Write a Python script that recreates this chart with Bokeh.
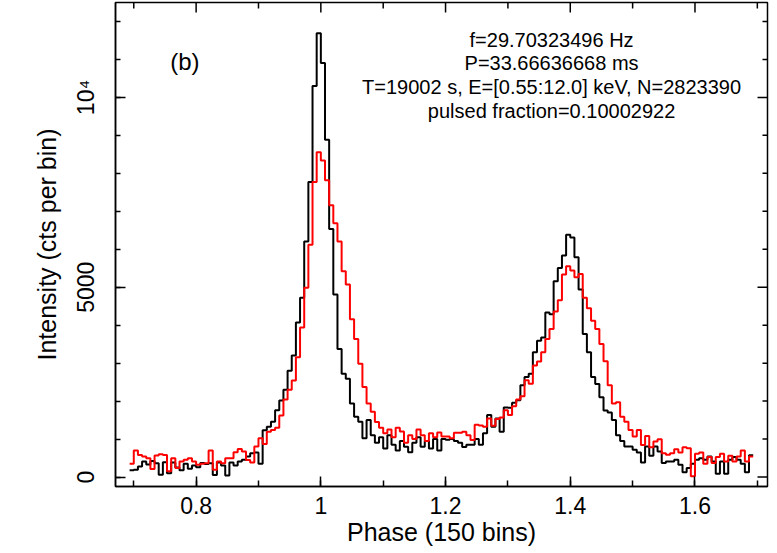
import numpy as np
from bokeh.plotting import figure
from bokeh.models import Range1d, FixedTicker, Label
from bokeh.embed import file_html
from bokeh.resources import INLINE

# ---------------- data ----------------
n_bins = 150
phase_first_edge = 104 / 150          # left edge of first bin
bin_width = 1 / 150

counts_black = [
    175, 190, 280, 410, 330, 420, 360, 60, 390, 100,
    380, 250, 180, 350, 220, 300, 260, 370, 340, 360,
    50, 380, 300, 40, 380, 300, 409, 452, 540, 626,
    644, 348, 1230, 1322, 1453, 1757, 2018, 2300, 2800, 3200,
    4069, 4723, 6204, 7772, 10299, 11693, 10908, 8887, 6535, 4810,
    3373, 2719, 2589, 1935, 1587, 1456, 1021, 1500, 1100, 900,
    1050, 750, 1100, 850, 700, 950, 800, 650, 900, 1050,
    800, 950, 750, 1000, 700, 1000, 980, 1000, 950, 900,
    790, 850, 850, 1000, 850, 1152, 1631, 1326, 1543, 1195,
    1831, 1822, 1953, 2023, 2415, 2633, 2720, 3286, 3591, 3678,
    4331, 4288, 5159, 5508, 5838, 6379, 6309, 5786, 4941, 3765,
    3286, 2633, 2450, 2100, 1750, 1700, 1500, 1100, 950, 802,
    802, 715, 646, 384, 802, 558, 802, 672, 367, 410,
    410, 454, 320, 123, 235, 349, 454, 497, 454, 541,
    410, 88, 410, 88, 454, 524, 454, 349, 123, 576,
]

counts_red = [
    348, 696, 583, 539, 496, 209, 566, 600, 583, 150,
    496, 235, 409, 452, 496, 409, 322, 348, 365, 696,
    191, 409, 365, 496, 496, 650, 740, 670, 450, 380,
    803, 1021, 870, 1195, 1239, 1300, 1620, 2040, 2300, 2545,
    3155, 3940, 4984, 6117, 7772, 8556, 8338, 7816, 7162, 6683,
    6204, 5420, 5071, 4156, 3634, 2981, 2371, 1935, 1717, 1450,
    1300, 1150, 1250, 1050, 1300, 1200, 900, 1100, 1000, 1250,
    1100, 950, 1150, 1050, 1170, 1064, 1064, 1021, 1169, 1169,
    1195, 1100, 977, 1378, 1360, 1326, 1543, 1350, 1526, 1570,
    1761, 1631, 1866, 2040, 2127, 2546, 2458, 2937, 3042, 3286,
    3634, 3896, 4358, 4654, 5333, 5551, 5438, 5263, 5351, 4723,
    4445, 4114, 3896, 3504, 3051, 2414, 1935, 1970, 1587, 1456,
    1238, 1064, 1240, 846, 1081, 785, 933, 994, 628, 585,
    628, 733, 646, 785, 760, 20, 611, 646, 349, 524,
    367, 524, 611, 410, 558, 410, 541, 698, 410, 541,
]

x_ticks = [0.8, 1.0, 1.2, 1.4, 1.6]
x_tick_labels = ["0.8", "1", "1.2", "1.4", "1.6"]
x_minor_ticks = [0.7, 0.8, 0.9, 1.0, 1.1, 1.2, 1.3, 1.4, 1.5, 1.6, 1.7]
y_ticks = [0, 5000, 10000]
y_tick_labels = ["0", "5000", "10\u2074"]
y_minor_ticks = [0, 1000, 2000, 3000, 4000, 5000, 6000, 7000, 8000, 9000,
                 10000, 11000, 12000]

info_lines = [
    "f=29.70323496 Hz",
    "P=33.66636668 ms",
    "T=19002 s, E=[0.55:12.0] keV, N=2823390",
    "pulsed fraction=0.10002922",
]
panel_label = "(b)"

# ---------------- figure ----------------
edges = phase_first_edge + np.arange(n_bins + 1) * bin_width
FONT = "Liberation Sans"

X0, X1 = 0.6707, 1.7163
Y0, Y1 = -250, 12500
FW, FH = 652, 484

p = figure(frame_width=FW, frame_height=FH,
           x_range=Range1d(X0, X1), y_range=Range1d(Y0, Y1),
           output_backend="svg", toolbar_location=None,
           min_border_left=115, min_border_right=2,
           min_border_top=2, min_border_bottom=59)
p.xgrid.visible = False
p.ygrid.visible = False
p.outline_line_color = "black"
p.outline_line_width = 1.5
p.outline_line_alpha = 1.0
p.background_fill_color = "white"
p.border_fill_color = "white"

yb = list(counts_black) + [counts_black[-1]]
yr = list(counts_red) + [counts_red[-1]]
p.step(edges, yb, mode="after", line_color="black", line_width=2)
p.step(edges, yr, mode="after", line_color="#ff0000", line_width=2)


def style_axis(ax, ticker, minor_len):
    ax.ticker = ticker
    ax.major_tick_in = 10
    ax.major_tick_out = 0
    ax.minor_tick_in = minor_len
    ax.minor_tick_out = 0
    ax.axis_line_width = 1.5
    ax.major_tick_line_width = 1.5
    ax.minor_tick_line_width = 1.5
    ax.axis_line_color = "black"
    ax.major_tick_line_color = "black"
    ax.minor_tick_line_color = "black"
    ax.major_label_text_font = FONT
    ax.major_label_text_color = "black"
    ax.axis_label_text_font = FONT
    ax.axis_label_text_font_style = "normal"
    ax.axis_label_text_color = "black"


xa = p.xaxis[0]
style_axis(xa, FixedTicker(ticks=x_ticks, minor_ticks=x_minor_ticks), 6)
xa.major_label_overrides = dict(zip(x_ticks, x_tick_labels))
xa.major_label_text_font_size = "23px"
xa.major_label_standoff = 10
xa.axis_label = "Phase (150 bins)"
xa.axis_label_text_font_size = "25px"
xa.axis_label_standoff = 1

ya = p.yaxis[0]
style_axis(ya, FixedTicker(ticks=y_ticks, minor_ticks=y_minor_ticks), 5)
ya.major_label_overrides = dict(zip(y_ticks, y_tick_labels))
ya.major_label_text_font_size = "23px"
ya.major_label_orientation = "vertical"
ya.major_label_standoff = 16
ya.axis_label = "Intensity (cts per bin)"
ya.axis_label_text_font_size = "25px"
ya.axis_label_standoff = 10

# inward ticks on the top and right sides of the frame (mirror of the axes)
dx_per_px = (X1 - X0) / FW
dy_per_px = (Y1 - Y0) / FH
top_minor = [t for t in x_minor_ticks if t not in x_ticks]
right_minor = [t for t in y_minor_ticks if t not in y_ticks]
p.segment(x0=x_ticks, y0=[Y1] * len(x_ticks), x1=x_ticks,
          y1=[Y1 - 10 * dy_per_px] * len(x_ticks), line_color="black", line_width=1.5)
p.segment(x0=top_minor, y0=[Y1] * len(top_minor), x1=top_minor,
          y1=[Y1 - 6 * dy_per_px] * len(top_minor), line_color="black", line_width=1.5)
p.segment(x0=[X1] * len(y_ticks), y0=y_ticks, x1=[X1 - 10 * dx_per_px] * len(y_ticks),
          y1=y_ticks, line_color="black", line_width=1.5)
p.segment(x0=[X1] * len(right_minor), y0=right_minor,
          x1=[X1 - 5 * dx_per_px] * len(right_minor), y1=right_minor,
          line_color="black", line_width=1.5)

# annotations
info_x = 1.37
info_y = [11520, 10900, 10280, 9650]
for txt, yy in zip(info_lines, info_y):
    p.add_layout(Label(x=info_x, y=yy, text=txt, text_align="center",
                       text_baseline="middle", text_font=FONT,
                       text_font_size="20px", text_color="black"))
p.add_layout(Label(x=0.782, y=10950, text=panel_label, text_align="center",
                   text_baseline="middle", text_font=FONT,
                   text_font_size="24px", text_color="black"))

open("out.html", "w").write(file_html(p, INLINE))
